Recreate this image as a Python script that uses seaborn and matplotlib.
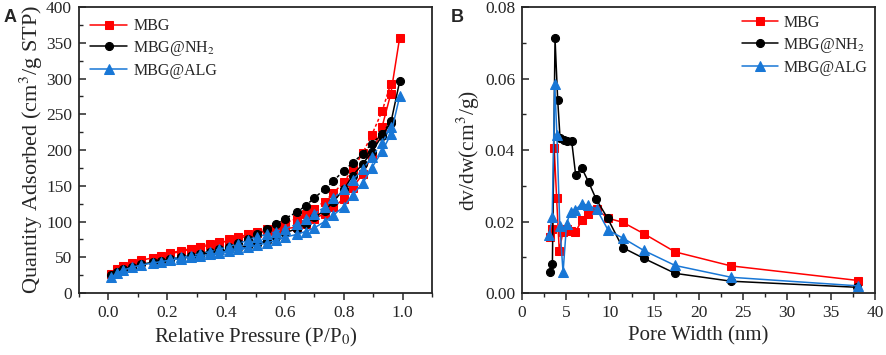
import numpy as np
import pandas as pd
import matplotlib
matplotlib.use('Agg')
import matplotlib.pyplot as plt
from matplotlib.ticker import MultipleLocator, FormatStrFormatter
import seaborn as sns

# ---- data: panel A (N2 isotherms) ----
p_ads = [0.01, 0.03, 0.05, 0.08, 0.11, 0.15, 0.18, 0.21, 0.245, 0.28, 0.31, 0.345, 0.375,
         0.41, 0.44, 0.475, 0.505, 0.54, 0.57, 0.60, 0.64, 0.67, 0.70, 0.735, 0.765, 0.80,
         0.83, 0.865, 0.895, 0.93, 0.96, 0.99]
p_des = [0.96, 0.93, 0.895, 0.865, 0.83, 0.80, 0.765, 0.735, 0.70, 0.67, 0.64, 0.60, 0.57,
         0.54, 0.505, 0.475, 0.44, 0.41, 0.375, 0.345, 0.31, 0.28, 0.245, 0.21]

mbg_ads = [27, 33, 38, 42, 46, 49, 52, 55, 58, 61, 64, 67, 70, 73, 76, 80, 84, 87, 88, 90, 92,
           96, 104, 111, 120, 132, 147, 167, 192, 232, 279, 357]
mbg_des = [293, 254, 221, 196, 173, 155, 140, 128, 118, 110, 104, 98, 92, 89, 86, 82, 78, 75,
           72, 69, 65, 62, 59, 56]
nh2_ads = [25, 29, 33, 37, 40, 43, 45, 47, 50, 52, 54, 56, 58, 61, 63, 66, 69, 73, 78, 84, 90,
           97, 106, 115, 128, 145, 164, 181, 197, 220, 238, 296]
nh2_des = [240, 222, 209, 195, 182, 171, 157, 145, 133, 122, 113, 104, 96, 89, 82, 75, 70, 65,
           61, 58, 55, 52, 50, 47]
alg_ads = [22, 28, 32, 36, 39, 42, 44, 46, 48, 50, 52, 54, 56, 59, 61, 64, 67, 70, 74, 78, 82,
           86, 91, 100, 109, 121, 137, 154, 175, 198, 222, 275]
alg_des = [232, 210, 190, 173, 158, 145, 133, 120, 111, 103, 96, 90, 86, 82, 79, 74, 69, 65,
           61, 58, 55, 52, 50, 48]

# ---- data: panel B (pore size distribution) ----
w_mbg = [3.15, 3.45, 3.65, 3.92, 4.22, 4.62, 5.05, 5.5, 6.05, 6.75, 7.5, 8.45, 9.75, 11.4,
         13.8, 17.35, 23.65, 38.1]
d_mbg = [0.0157, 0.0180, 0.0405, 0.0266, 0.0117, 0.0170, 0.0180, 0.0173, 0.0170, 0.0203,
         0.0221, 0.0235, 0.0209, 0.0198, 0.0166, 0.0115, 0.0076, 0.0035]
w_nh2 = [3.17, 3.44, 3.74, 4.04, 4.31, 4.76, 5.14, 5.63, 6.08, 6.76, 7.55, 8.39, 9.7, 11.4,
         13.8, 17.35, 23.7, 38.0]
d_nh2 = [0.0060, 0.0081, 0.0712, 0.0541, 0.0433, 0.0428, 0.0424, 0.0424, 0.0330, 0.0350,
         0.0310, 0.0263, 0.0209, 0.0127, 0.0097, 0.0055, 0.0033, 0.0016]
w_alg = [3.08, 3.42, 3.7, 3.95, 4.28, 4.65, 5.05, 5.5, 6.05, 6.75, 7.5, 8.45, 9.75, 11.4,
         13.8, 17.35, 23.7, 38.1]
d_alg = [0.0163, 0.0212, 0.0585, 0.0443, 0.0188, 0.0058, 0.0194, 0.0228, 0.0232, 0.0250,
         0.0245, 0.0235, 0.0176, 0.0154, 0.0119, 0.0077, 0.0044, 0.0020]

labels = ['MBG', 'MBG@NH$_2$', 'MBG@ALG']
colors = ['#ff0000', '#000000', '#1877d6']
markers = ['s', 'o', '^']
msizes = [5.8, 5.8, 6.8]

sns.set_style('ticks')
plt.rcParams['font.family'] = ['Liberation Serif', 'DejaVu Serif']
plt.rcParams['mathtext.fontset'] = 'stix'
plt.rcParams['axes.linewidth'] = 1.3
plt.rcParams['xtick.major.width'] = 1.1
plt.rcParams['ytick.major.width'] = 1.1
plt.rcParams['xtick.minor.width'] = 1.0
plt.rcParams['ytick.minor.width'] = 1.0
plt.rcParams['xtick.major.size'] = 5
plt.rcParams['ytick.major.size'] = 5
plt.rcParams['xtick.minor.size'] = 3
plt.rcParams['ytick.minor.size'] = 3

fig = plt.figure(figsize=(8.86, 3.55), dpi=100)
axA = fig.add_axes([0.0892, 0.1746, 0.3984, 0.8056])
axB = fig.add_axes([0.5892, 0.1746, 0.3984, 0.8056])

# panel A
ads_sets = [mbg_ads, nh2_ads, alg_ads]
des_sets = [mbg_des, nh2_des, alg_des]
for i in range(3):
    sns.lineplot(x=p_ads, y=ads_sets[i], ax=axA, sort=False, estimator=None,
                 color=colors[i], marker=markers[i], markersize=msizes[i],
                 markeredgecolor=colors[i], linewidth=1.1, label=labels[i])
    sns.lineplot(x=p_des, y=des_sets[i], ax=axA, sort=False, estimator=None,
                 color=colors[i], marker=markers[i], markersize=msizes[i],
                 markeredgecolor=colors[i], linewidth=1.1, linestyle=(0, (2, 1.5)),
                 label='_nolegend_')

axA.set_xlim(-0.1, 1.1)
axA.set_ylim(0, 400)
axA.xaxis.set_major_locator(MultipleLocator(0.2))
axA.xaxis.set_minor_locator(MultipleLocator(0.1))
axA.yaxis.set_major_locator(MultipleLocator(50))
axA.yaxis.set_minor_locator(MultipleLocator(25))
axA.xaxis.set_major_formatter(FormatStrFormatter('%.1f'))
axA.set_xlabel('Relative Pressure (P/P$_0$)', fontsize=15)
axA.set_ylabel('Quantity Adsorbed (cm$^3$/g STP)', fontsize=16, labelpad=1)
axA.legend(loc='upper left', frameon=False, fontsize=11.5, handlelength=2.3,
           handletextpad=0.4, labelspacing=0.3, borderaxespad=0.3)

# panel B
w_sets = [w_mbg, w_nh2, w_alg]
d_sets = [d_mbg, d_nh2, d_alg]
for i in range(3):
    sns.lineplot(x=w_sets[i], y=d_sets[i], ax=axB, sort=False, estimator=None,
                 color=colors[i], marker=markers[i], markersize=msizes[i],
                 markeredgecolor=colors[i], linewidth=1.1, label=labels[i])

axB.set_xlim(0, 40)
axB.set_ylim(0, 0.08)
axB.xaxis.set_major_locator(MultipleLocator(5))
axB.xaxis.set_minor_locator(MultipleLocator(2.5))
axB.yaxis.set_major_locator(MultipleLocator(0.02))
axB.yaxis.set_minor_locator(MultipleLocator(0.01))
axB.yaxis.set_major_formatter(FormatStrFormatter('%.2f'))
axB.set_xlabel('Pore Width (nm)', fontsize=15)
axB.set_ylabel('dv/dw(cm$^3$/g)', fontsize=15.5, labelpad=2)
axB.legend(loc='upper right', frameon=False, fontsize=11.5, handlelength=2.3,
           handletextpad=0.3, labelspacing=0.3, borderaxespad=0.1,
           bbox_to_anchor=(1.0, 1.0))

for ax in (axA, axB):
    ax.tick_params(axis='x', which='both', direction='out', labelsize=12.5,
                   top=False)
    ax.tick_params(axis='y', which='both', direction='in', labelsize=12.5,
                   right=False, pad=5)
    for s in ax.spines.values():
        s.set_visible(True)

fig.text(0.004, 0.975, 'A', fontsize=13, fontweight='bold', va='top',
         family=['Liberation Sans', 'DejaVu Sans'])
fig.text(0.509, 0.975, 'B', fontsize=13, fontweight='bold', va='top',
         family=['Liberation Sans', 'DejaVu Sans'])

fig.savefig('out.png', dpi=100)
